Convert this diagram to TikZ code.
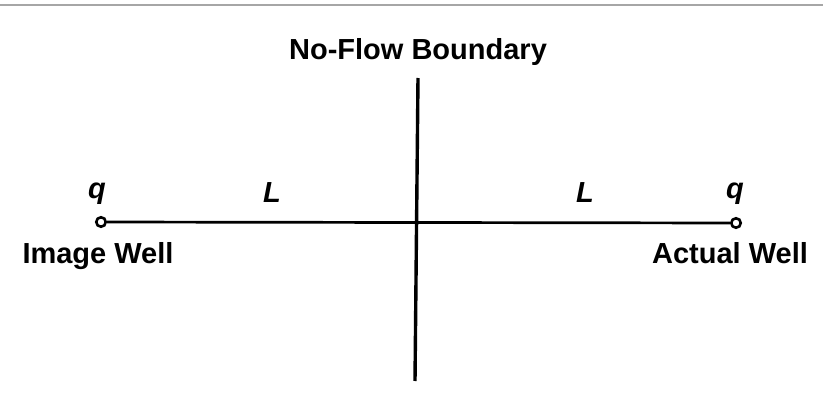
\documentclass[tikz,border=0pt]{standalone}
\usepackage{fontspec}
\setmainfont{Liberation Sans}
\begin{document}
\begin{tikzpicture}[x=1pt, y=-1pt, font=\fontsize{29}{35}\selectfont\bfseries,
  well/.style={circle, draw, line width=2.6pt, fill=white, inner sep=0pt, minimum size=9.5pt},
  lbl/.style={anchor=base, inner sep=0pt}]
  \useasboundingbox (0,0) rectangle (823,396);
  \draw[gray!70, line width=1.5pt] (0,5) -- (823,5);
  \node[well] (image) at (101,222) {};
  \node[well] (actual) at (736,223) {};
  \coordinate (btop) at (418,78);
  \coordinate (bbot) at (415,381);
  \draw[line width=2.7pt] (image) -- (actual);
  \draw[line width=3.4pt] (btop) -- (bbot);
  \node[lbl] (bname) at (418,60) {No-Flow Boundary};
  \node[lbl] (qimage) at (97,198) {\itshape q};
  \node[lbl] (qactual) at (735,198) {\itshape q};
  \node[lbl] (limage) at (272,202) {\itshape L};
  \node[lbl] (lactual) at (585,202) {\itshape L};
  \node[lbl] (nimage) at (98,263) {Image Well};
  \node[lbl] (nactual) at (730,263) {Actual Well};
\end{tikzpicture}
\end{document}
